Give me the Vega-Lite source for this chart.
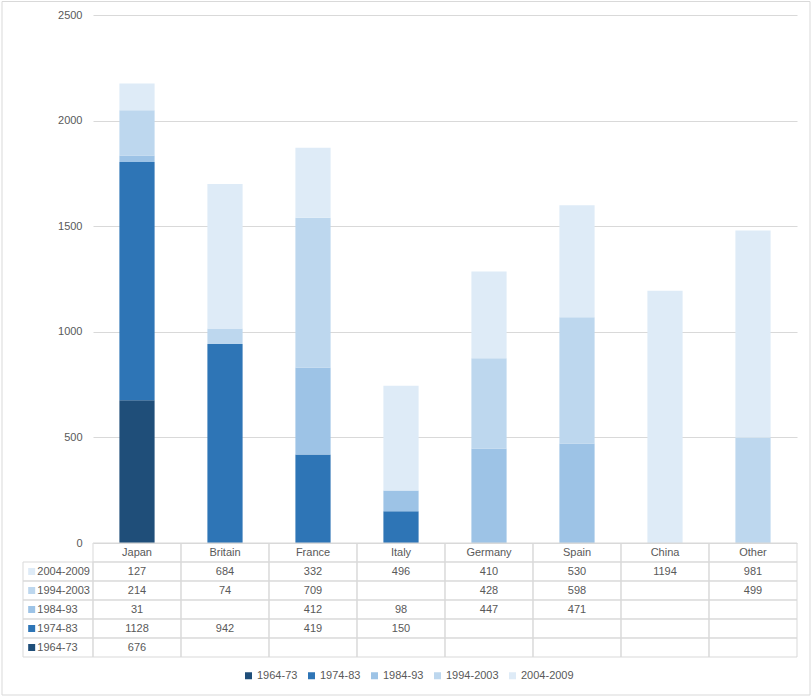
{
  "$schema": "https://vega.github.io/schema/vega-lite/v6.json",
  "width": 704,
  "height": 642,
  "autosize": "none",
  "padding": {"left": 93, "top": 15, "right": 15, "bottom": 39},
  "background": "white",
  "datasets": {
    "shipments": [
      {"country": "Japan", "period": "1964-73", "value": 676},
      {"country": "Japan", "period": "1974-83", "value": 1128},
      {"country": "Japan", "period": "1984-93", "value": 31},
      {"country": "Japan", "period": "1994-2003", "value": 214},
      {"country": "Japan", "period": "2004-2009", "value": 127},
      {"country": "Britain", "period": "1964-73", "value": null},
      {"country": "Britain", "period": "1974-83", "value": 942},
      {"country": "Britain", "period": "1984-93", "value": null},
      {"country": "Britain", "period": "1994-2003", "value": 74},
      {"country": "Britain", "period": "2004-2009", "value": 684},
      {"country": "France", "period": "1964-73", "value": null},
      {"country": "France", "period": "1974-83", "value": 419},
      {"country": "France", "period": "1984-93", "value": 412},
      {"country": "France", "period": "1994-2003", "value": 709},
      {"country": "France", "period": "2004-2009", "value": 332},
      {"country": "Italy", "period": "1964-73", "value": null},
      {"country": "Italy", "period": "1974-83", "value": 150},
      {"country": "Italy", "period": "1984-93", "value": 98},
      {"country": "Italy", "period": "1994-2003", "value": null},
      {"country": "Italy", "period": "2004-2009", "value": 496},
      {"country": "Germany", "period": "1964-73", "value": null},
      {"country": "Germany", "period": "1974-83", "value": null},
      {"country": "Germany", "period": "1984-93", "value": 447},
      {"country": "Germany", "period": "1994-2003", "value": 428},
      {"country": "Germany", "period": "2004-2009", "value": 410},
      {"country": "Spain", "period": "1964-73", "value": null},
      {"country": "Spain", "period": "1974-83", "value": null},
      {"country": "Spain", "period": "1984-93", "value": 471},
      {"country": "Spain", "period": "1994-2003", "value": 598},
      {"country": "Spain", "period": "2004-2009", "value": 530},
      {"country": "China", "period": "1964-73", "value": null},
      {"country": "China", "period": "1974-83", "value": null},
      {"country": "China", "period": "1984-93", "value": null},
      {"country": "China", "period": "1994-2003", "value": null},
      {"country": "China", "period": "2004-2009", "value": 1194},
      {"country": "Other", "period": "1964-73", "value": null},
      {"country": "Other", "period": "1974-83", "value": null},
      {"country": "Other", "period": "1984-93", "value": null},
      {"country": "Other", "period": "1994-2003", "value": 499},
      {"country": "Other", "period": "2004-2009", "value": 981}
    ],
    "countries": [
      {"country": "Japan"}, {"country": "Britain"}, {"country": "France"}, {"country": "Italy"},
      {"country": "Germany"}, {"country": "Spain"}, {"country": "China"}, {"country": "Other"}
    ],
    "periods": [
      {"period": "1964-73"}, {"period": "1974-83"}, {"period": "1984-93"},
      {"period": "1994-2003"}, {"period": "2004-2009"}
    ],
    "frame": [{"name": "chart area"}]
  },
  "layer": [
    {
      "description": "Chart area border",
      "data": {"name": "frame"},
      "mark": {"type": "rect", "fill": "transparent", "stroke": "#d9d9d9", "strokeWidth": 1},
      "encoding": {
        "x": {"datum": 0, "type": "quantitative", "scale": {"domain": [0, 1], "range": [-91, 717]}, "axis": null},
        "x2": {"datum": 1},
        "y": {"datum": 0, "type": "quantitative", "scale": {"domain": [0, 1], "range": [-13.5, 680]}, "axis": null},
        "y2": {"datum": 1}
      }
    },
    {
      "description": "Stacked bars",
      "data": {"name": "shipments"},
      "transform": [{"filter": "datum.value != null"}],
      "mark": {"type": "bar"},
      "encoding": {
        "x": {
          "field": "country",
          "type": "nominal",
          "sort": ["Japan", "Britain", "France", "Italy", "Germany", "Spain", "China", "Other"],
          "scale": {"paddingInner": 0.6, "paddingOuter": 0.3, "range": [0, 704]},
          "axis": null
        },
        "y": {
          "field": "value",
          "type": "quantitative",
          "stack": "zero",
          "scale": {"domain": [0, 2500], "range": [528, 0], "nice": false, "zero": true},
          "axis": {
            "title": null,
            "values": [0, 500, 1000, 1500, 2000, 2500],
            "format": "d",
            "grid": true,
            "gridColor": "#d9d9d9",
            "domain": false,
            "ticks": false,
            "labelPadding": 11,
            "labelFontSize": 11,
            "labelColor": "#595959"
          }
        },
        "color": {
          "field": "period",
          "type": "nominal",
          "scale": {
            "domain": ["1964-73", "1974-83", "1984-93", "1994-2003", "2004-2009"],
            "range": ["#1f4e79", "#2e75b6", "#9dc3e6", "#bdd7ee", "#deebf7"]
          },
          "legend": {
            "title": null,
            "orient": "none",
            "direction": "horizontal",
            "legendX": 150,
            "legendY": 655,
            "symbolType": "square",
            "symbolSize": 49,
            "symbolStrokeWidth": 0,
            "labelFontSize": 11,
            "labelColor": "#595959",
            "labelOffset": 3,
            "columnPadding": 8,
            "padding": 0
          }
        },
        "order": {"field": "period", "type": "ordinal", "sort": "ascending"}
      }
    },
    {
      "description": "Table cells",
      "data": {"name": "shipments"},
      "mark": {"type": "rect", "fill": "transparent", "stroke": "#d9d9d9", "strokeWidth": 1},
      "encoding": {
        "x": {
          "field": "country",
          "type": "nominal",
          "sort": ["Japan", "Britain", "France", "Italy", "Germany", "Spain", "China", "Other"],
          "scale": {"type": "band", "padding": 0, "range": [0, 704]},
          "axis": null
        },
        "y": {
          "field": "period",
          "type": "nominal",
          "scale": {"type": "band", "domain": ["header", "2004-2009", "1994-2003", "1984-93", "1974-83", "1964-73"], "range": [528, 642], "padding": 0},
          "axis": null
        }
      }
    },
    {
      "description": "Table values",
      "data": {"name": "shipments"},
      "transform": [{"filter": "datum.value != null"}],
      "mark": {"type": "text", "fontSize": 11, "color": "#595959", "baseline": "middle"},
      "encoding": {
        "x": {
          "field": "country",
          "type": "nominal",
          "bandPosition": 0.5,
          "sort": ["Japan", "Britain", "France", "Italy", "Germany", "Spain", "China", "Other"],
          "scale": {"type": "band", "padding": 0, "range": [0, 704]},
          "axis": null
        },
        "y": {
          "field": "period",
          "type": "nominal",
          "bandPosition": 0.5,
          "scale": {"type": "band", "domain": ["header", "2004-2009", "1994-2003", "1984-93", "1974-83", "1964-73"], "range": [528, 642], "padding": 0},
          "axis": null
        },
        "text": {"field": "value", "type": "quantitative", "format": "d"}
      }
    },
    {
      "description": "Header row cells",
      "data": {"name": "countries"},
      "mark": {"type": "rect", "fill": "transparent", "stroke": "#d9d9d9", "strokeWidth": 1},
      "encoding": {
        "x": {
          "field": "country",
          "type": "nominal",
          "sort": ["Japan", "Britain", "France", "Italy", "Germany", "Spain", "China", "Other"],
          "scale": {"type": "band", "padding": 0, "range": [0, 704]},
          "axis": null
        },
        "y": {
          "datum": "header",
          "type": "nominal",
          "scale": {"type": "band", "domain": ["header", "2004-2009", "1994-2003", "1984-93", "1974-83", "1964-73"], "range": [528, 642], "padding": 0},
          "axis": null
        }
      }
    },
    {
      "description": "Header row labels",
      "data": {"name": "countries"},
      "mark": {"type": "text", "fontSize": 11, "color": "#595959", "baseline": "middle"},
      "encoding": {
        "x": {
          "field": "country",
          "type": "nominal",
          "bandPosition": 0.5,
          "sort": ["Japan", "Britain", "France", "Italy", "Germany", "Spain", "China", "Other"],
          "scale": {"type": "band", "padding": 0, "range": [0, 704]},
          "axis": null
        },
        "y": {
          "datum": "header",
          "type": "nominal",
          "bandPosition": 0.5,
          "scale": {"type": "band", "domain": ["header", "2004-2009", "1994-2003", "1984-93", "1974-83", "1964-73"], "range": [528, 642], "padding": 0},
          "axis": null
        },
        "text": {"field": "country", "type": "nominal"}
      }
    },
    {
      "description": "Row header cells",
      "data": {"name": "periods"},
      "mark": {"type": "rect", "fill": "transparent", "stroke": "#d9d9d9", "strokeWidth": 1},
      "encoding": {
        "x": {"datum": 0, "type": "quantitative", "scale": {"domain": [0, 1], "range": [-70, 0]}, "axis": null},
        "x2": {"datum": 1},
        "y": {
          "field": "period",
          "type": "nominal",
          "scale": {"type": "band", "domain": ["header", "2004-2009", "1994-2003", "1984-93", "1974-83", "1964-73"], "range": [528, 642], "padding": 0},
          "axis": null
        }
      }
    },
    {
      "description": "Row header swatches",
      "data": {"name": "periods"},
      "mark": {"type": "point", "shape": "square", "size": 49, "filled": true, "opacity": 1},
      "encoding": {
        "x": {"datum": 0.124, "type": "quantitative", "scale": {"domain": [0, 1], "range": [-70, 0]}, "axis": null},
        "y": {
          "field": "period",
          "type": "nominal",
          "bandPosition": 0.5,
          "scale": {"type": "band", "domain": ["header", "2004-2009", "1994-2003", "1984-93", "1974-83", "1964-73"], "range": [528, 642], "padding": 0},
          "axis": null
        },
        "color": {"field": "period", "type": "nominal"}
      }
    },
    {
      "description": "Row header labels",
      "data": {"name": "periods"},
      "mark": {"type": "text", "fontSize": 11, "color": "#595959", "baseline": "middle", "align": "left"},
      "encoding": {
        "x": {"datum": 0.204, "type": "quantitative", "scale": {"domain": [0, 1], "range": [-70, 0]}, "axis": null},
        "y": {
          "field": "period",
          "type": "nominal",
          "bandPosition": 0.5,
          "scale": {"type": "band", "domain": ["header", "2004-2009", "1994-2003", "1984-93", "1974-83", "1964-73"], "range": [528, 642], "padding": 0},
          "axis": null
        },
        "text": {"field": "period", "type": "nominal"}
      }
    }
  ],
  "resolve": {"scale": {"x": "independent", "y": "independent"}},
  "config": {
    "font": "Liberation Sans",
    "view": {"stroke": null}
  }
}
